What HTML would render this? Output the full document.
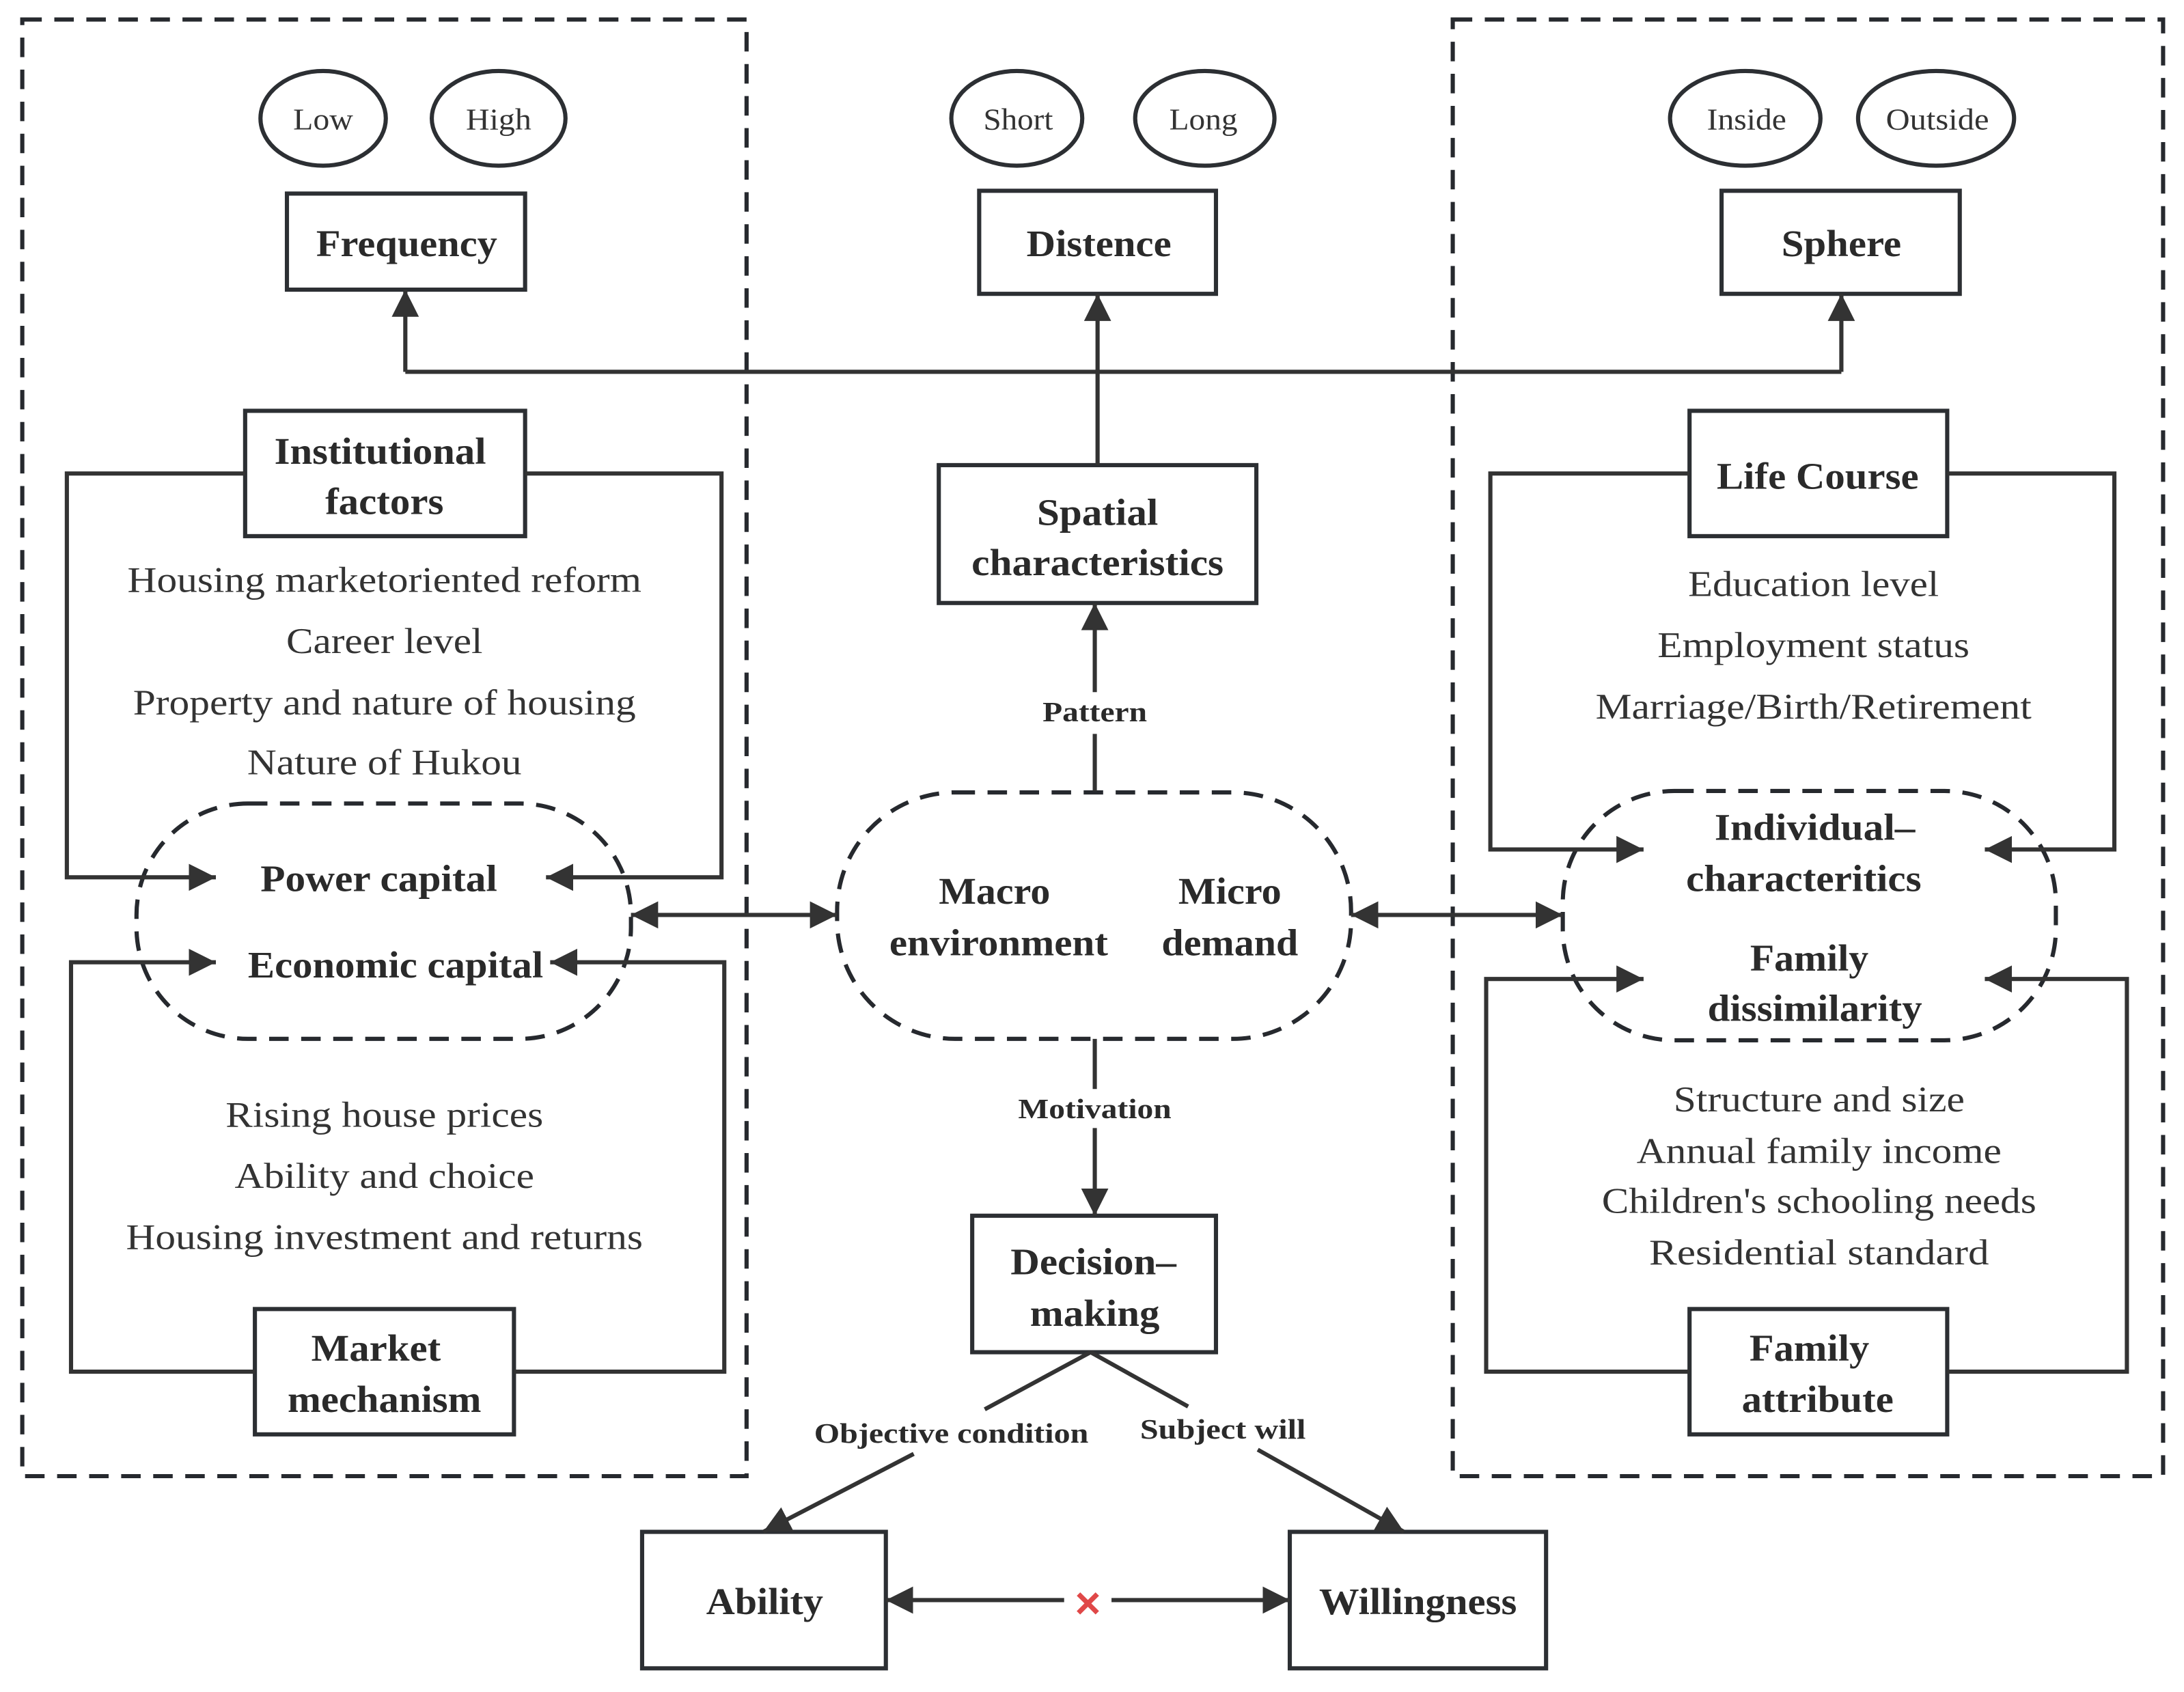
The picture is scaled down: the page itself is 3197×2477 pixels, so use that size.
<!DOCTYPE html>
<html><head><meta charset="utf-8"><style>html,body{margin:0;padding:0;background:#fff}svg{display:block}</style></head><body>
<svg width="3197" height="2477" viewBox="0 0 1568 1215" preserveAspectRatio="none" xmlns="http://www.w3.org/2000/svg" font-family="'Liberation Serif', serif">
<defs>
<marker id="a" viewBox="0 0 10 10" refX="10" refY="5" markerWidth="6" markerHeight="6" markerUnits="userSpaceOnUse" orient="auto-start-reverse"><path d="M0,0 L10,5 L0,10 z" fill="#333"/></marker>
<marker id="b" viewBox="0 0 10 10" refX="10" refY="5" markerWidth="6.5" markerHeight="6.5" orient="auto-start-reverse"><path d="M0,0 L10,5 L0,10 z" fill="#333"/></marker>
</defs>
<rect width="1568" height="1215" fill="#fff"/>
<g fill="none" stroke="#26292e" stroke-width="3" stroke-dasharray="14,9">
<rect x="16" y="14" width="520" height="1046"/>
<rect x="1043" y="14" width="510" height="1046"/>
<rect x="98" y="577" width="355" height="169" rx="80"/>
<rect x="601" y="569" width="369" height="177" rx="85"/>
<rect x="1122" y="568" width="354" height="179" rx="80"/>
</g>
<g fill="none" stroke="#2c2f33" stroke-width="3">
<ellipse cx="232" cy="85" rx="45" ry="34"/><ellipse cx="358" cy="85" rx="48" ry="34"/>
<ellipse cx="730" cy="85" rx="47" ry="34"/><ellipse cx="865" cy="85" rx="50" ry="34"/>
<ellipse cx="1253" cy="85" rx="54" ry="34"/><ellipse cx="1390" cy="85" rx="56" ry="34"/>
<rect x="206" y="139" width="171" height="69"/>
<rect x="703" y="137" width="170" height="74"/>
<rect x="1236" y="137" width="171" height="74"/>
<rect x="176" y="295" width="201" height="90"/>
<rect x="674" y="334" width="228" height="99"/>
<rect x="1213" y="295" width="185" height="90"/>
<rect x="183" y="940" width="186" height="90"/>
<rect x="1213" y="940" width="185" height="90"/>
<rect x="698" y="873" width="175" height="98"/>
<rect x="461" y="1100" width="175" height="98"/>
<rect x="926" y="1100" width="184" height="98"/>
</g>
<g fill="none" stroke="#333" stroke-width="3">
<path d="M291,267 H1322"/>
<path d="M291,267 V208" marker-end="url(#b)"/>
<path d="M1322,267 V211" marker-end="url(#b)"/>
<path d="M788,334 V211" marker-end="url(#b)"/>
<path d="M786,568 V527"/><path d="M786,497 V433" marker-end="url(#b)"/>
<path d="M786,746 V782"/><path d="M786,810 V873" marker-end="url(#b)"/>
<path d="M176,340 H48 V630 H155" marker-end="url(#b)"/>
<path d="M377,340 H518 V630 H392" marker-end="url(#b)"/>
<path d="M183,985 H51 V691 H155" marker-end="url(#b)"/>
<path d="M369,985 H520 V691 H395" marker-end="url(#b)"/>
<path d="M1213,340 H1070 V610 H1180" marker-end="url(#b)"/>
<path d="M1398,340 H1518 V610 H1425" marker-end="url(#b)"/>
<path d="M1213,985 H1067 V703 H1180" marker-end="url(#b)"/>
<path d="M1398,985 H1527 V703 H1425" marker-end="url(#b)"/>
<path d="M453,657 H601" marker-start="url(#b)" marker-end="url(#b)"/>
<path d="M970,657 H1122" marker-start="url(#b)" marker-end="url(#b)"/>
<path d="M783,971 L707,1012"/><path d="M656,1044 L548,1100" marker-end="url(#b)"/>
<path d="M783,971 L853,1010"/><path d="M903,1041 L1008,1100" marker-end="url(#b)"/>
<path d="M764,1149 H636" marker-end="url(#b)"/><path d="M798,1149 H926" marker-end="url(#b)"/>
</g>
<text x="781" y="1162" font-family="'Liberation Sans',sans-serif" font-size="32" font-weight="bold" fill="#e04848" text-anchor="middle">×</text>
<g fill="#333" font-size="22" text-anchor="middle" lengthAdjust="spacingAndGlyphs">
<text x="232" y="93" textLength="43" lengthAdjust="spacingAndGlyphs">Low</text>
<text x="358" y="93" textLength="47" lengthAdjust="spacingAndGlyphs">High</text>
<text x="731" y="93" textLength="50" lengthAdjust="spacingAndGlyphs">Short</text>
<text x="864" y="93" textLength="49" lengthAdjust="spacingAndGlyphs">Long</text>
<text x="1254" y="93" textLength="57" lengthAdjust="spacingAndGlyphs">Inside</text>
<text x="1391" y="93" textLength="74" lengthAdjust="spacingAndGlyphs">Outside</text>
</g>
<g fill="#333" font-size="26" text-anchor="middle">
<text x="276" y="425" textLength="369" lengthAdjust="spacingAndGlyphs">Housing marketoriented reform</text>
<text x="276" y="469" textLength="141" lengthAdjust="spacingAndGlyphs">Career level</text>
<text x="276" y="513" textLength="361" lengthAdjust="spacingAndGlyphs">Property and nature of housing</text>
<text x="276" y="556" textLength="197" lengthAdjust="spacingAndGlyphs">Nature of Hukou</text>
<text x="276" y="809" textLength="228" lengthAdjust="spacingAndGlyphs">Rising house prices</text>
<text x="276" y="853" textLength="215" lengthAdjust="spacingAndGlyphs">Ability and choice</text>
<text x="276" y="897" textLength="371" lengthAdjust="spacingAndGlyphs">Housing investment and returns</text>
<text x="1302" y="428" textLength="180" lengthAdjust="spacingAndGlyphs">Education level</text>
<text x="1302" y="472" textLength="224" lengthAdjust="spacingAndGlyphs">Employment status</text>
<text x="1302" y="516" textLength="313" lengthAdjust="spacingAndGlyphs">Marriage/Birth/Retirement</text>
<text x="1306" y="798" textLength="209" lengthAdjust="spacingAndGlyphs">Structure and size</text>
<text x="1306" y="835" textLength="262" lengthAdjust="spacingAndGlyphs">Annual family income</text>
<text x="1306" y="871" textLength="312" lengthAdjust="spacingAndGlyphs">Children's schooling needs</text>
<text x="1306" y="908" textLength="244" lengthAdjust="spacingAndGlyphs">Residential  standard</text>
</g>
<g fill="#2a2a2a" font-size="27" font-weight="bold" text-anchor="middle">
<text x="292" y="184" textLength="130" lengthAdjust="spacingAndGlyphs">Frequency</text>
<text x="789" y="184" textLength="104" lengthAdjust="spacingAndGlyphs">Distence</text>
<text x="1322" y="184" textLength="86" lengthAdjust="spacingAndGlyphs">Sphere</text>
<text x="273" y="333" textLength="152" lengthAdjust="spacingAndGlyphs">Institutional</text>
<text x="276" y="369" textLength="85" lengthAdjust="spacingAndGlyphs">factors</text>
<text x="1305" y="351" textLength="145" lengthAdjust="spacingAndGlyphs">Life Course</text>
<text x="788" y="377" textLength="87" lengthAdjust="spacingAndGlyphs">Spatial</text>
<text x="788" y="413" textLength="181" lengthAdjust="spacingAndGlyphs">characteristics</text>
<text x="272" y="640" textLength="170" lengthAdjust="spacingAndGlyphs">Power capital</text>
<text x="284" y="702" textLength="212" lengthAdjust="spacingAndGlyphs">Economic capital</text>
<text x="714" y="649" textLength="80" lengthAdjust="spacingAndGlyphs">Macro</text>
<text x="717" y="686" textLength="157" lengthAdjust="spacingAndGlyphs">environment</text>
<text x="883" y="649" textLength="74" lengthAdjust="spacingAndGlyphs">Micro</text>
<text x="883" y="686" textLength="98" lengthAdjust="spacingAndGlyphs">demand</text>
<text x="1303" y="603" textLength="144" lengthAdjust="spacingAndGlyphs">Individual–</text>
<text x="1295" y="640" textLength="169" lengthAdjust="spacingAndGlyphs">characteritics</text>
<text x="1299" y="697" textLength="85" lengthAdjust="spacingAndGlyphs">Family</text>
<text x="1303" y="733" textLength="154" lengthAdjust="spacingAndGlyphs">dissimilarity</text>
<text x="270" y="977" textLength="93" lengthAdjust="spacingAndGlyphs">Market</text>
<text x="276" y="1014" textLength="139" lengthAdjust="spacingAndGlyphs">mechanism</text>
<text x="1299" y="977" textLength="86" lengthAdjust="spacingAndGlyphs">Family</text>
<text x="1305" y="1014" textLength="109" lengthAdjust="spacingAndGlyphs">attribute</text>
<text x="785" y="915" textLength="119" lengthAdjust="spacingAndGlyphs">Decision–</text>
<text x="786" y="952" textLength="93" lengthAdjust="spacingAndGlyphs">making</text>
<text x="549" y="1159" textLength="84" lengthAdjust="spacingAndGlyphs">Ability</text>
<text x="1018" y="1159" textLength="142" lengthAdjust="spacingAndGlyphs">Willingness</text>
</g>
<g fill="#2a2a2a" font-size="20" font-weight="bold" text-anchor="middle">
<text x="786" y="518" textLength="75" lengthAdjust="spacingAndGlyphs">Pattern</text>
<text x="786" y="803" textLength="110" lengthAdjust="spacingAndGlyphs">Motivation</text>
<text x="683" y="1036" textLength="197" lengthAdjust="spacingAndGlyphs">Objective condition</text>
<text x="878" y="1033" textLength="119" lengthAdjust="spacingAndGlyphs">Subject will</text>
</g>
</svg>
</body></html>
